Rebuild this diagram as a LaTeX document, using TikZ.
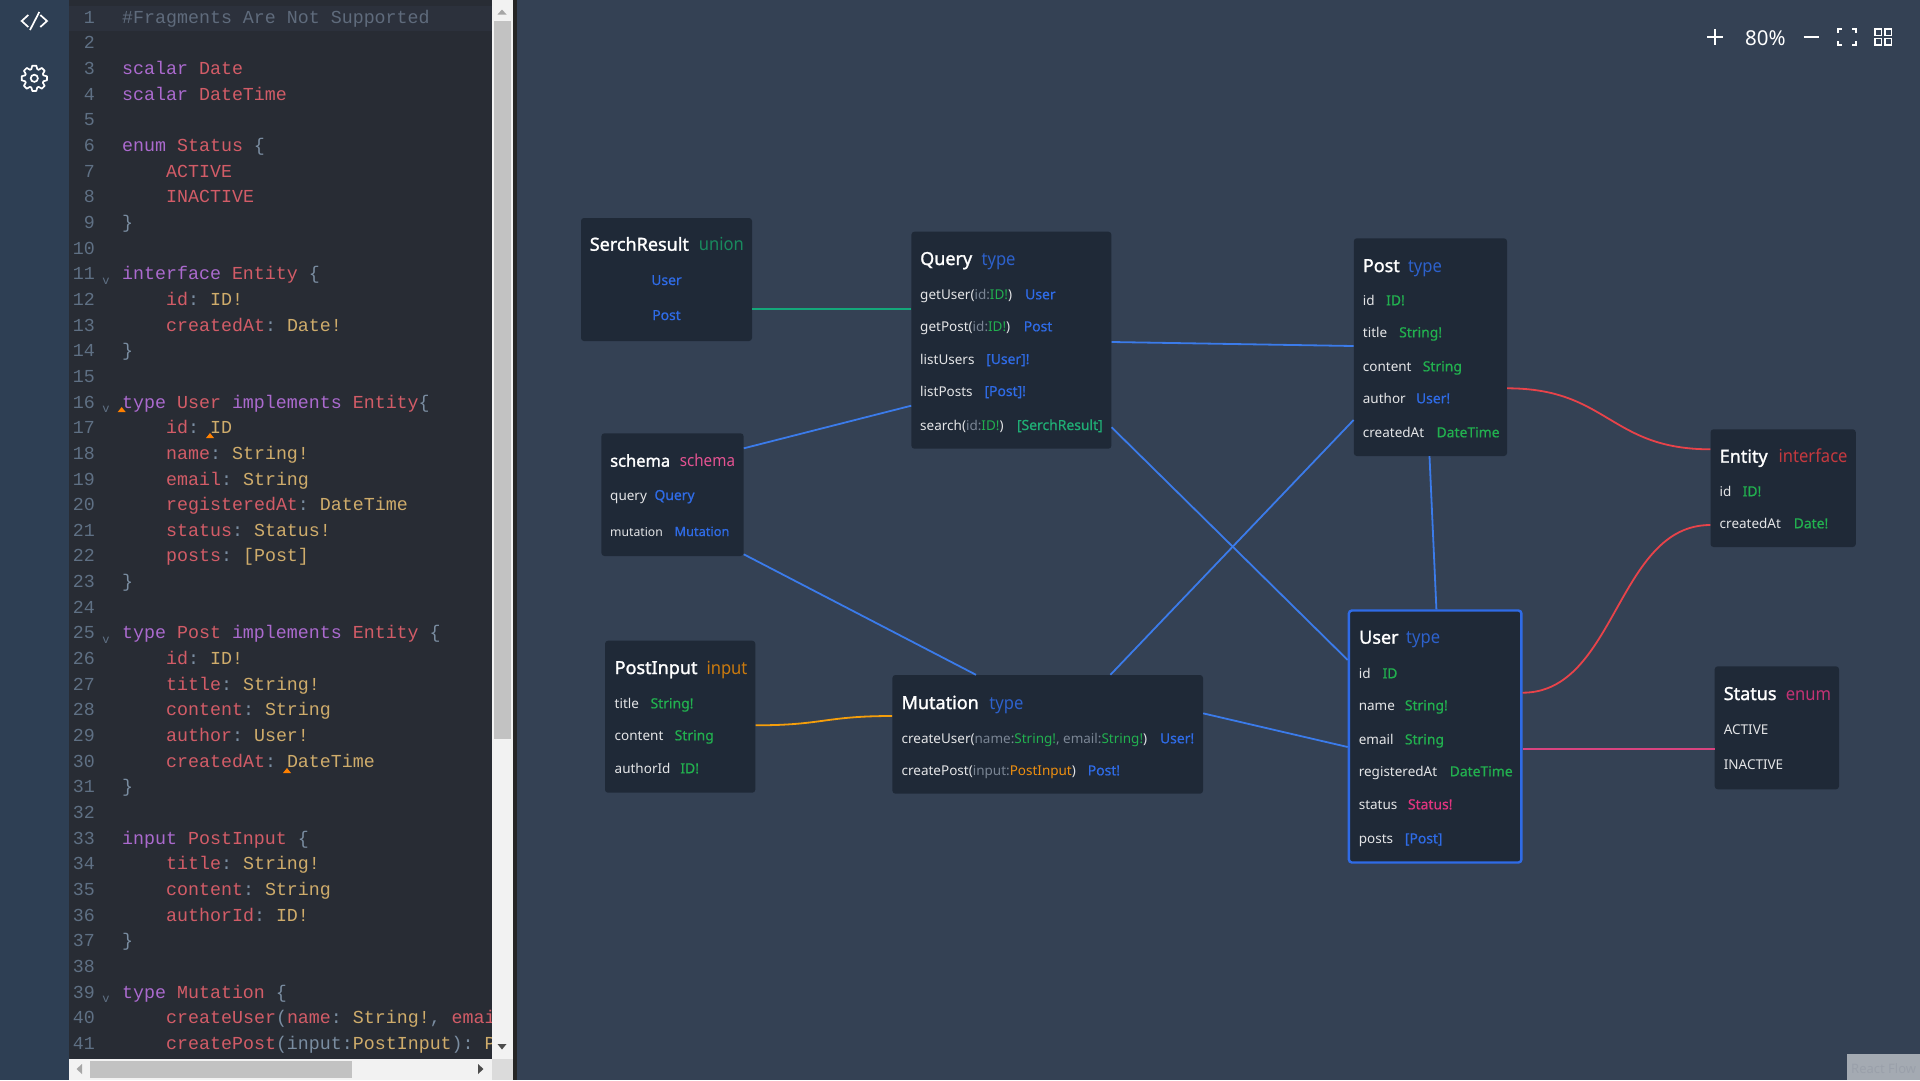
\documentclass[tikz,border=0pt]{standalone}
\usepackage{fontspec}
\usepackage{tikz}
\setmainfont{Noto Sans}
\newfontfamily\codefont{Liberation Mono}
\newfontfamily\kindfont[FakeStretch=0.92]{Noto Sans}
\newfontfamily\headfont[FakeBold=1.4]{Noto Sans}
\newfontfamily\typefont[FakeBold=0.7]{Noto Sans}

\definecolor{flowbg}{HTML}{344154}
\definecolor{sidebg}{HTML}{2E3F54}
\definecolor{editbg}{HTML}{282C34}
\definecolor{editline}{HTML}{2C313C}
\definecolor{gutter}{HTML}{5F7084}
\definecolor{boxbg}{HTML}{1F2937}
\definecolor{ckw}{HTML}{AB6ACE}
\definecolor{cdef}{HTML}{D25C67}
\definecolor{cty}{HTML}{CFAC6B}
\definecolor{cpn}{HTML}{7A8DA1}
\definecolor{ccm}{HTML}{5F6B7C}
\definecolor{tblue}{HTML}{2F6BE6}
\definecolor{tgreen}{HTML}{22B04F}
\definecolor{tteal}{HTML}{1FAD75}
\definecolor{tpink}{HTML}{E0357F}
\definecolor{torange}{HTML}{EE8F10}
\definecolor{targ}{HTML}{7A8594}
\definecolor{lblue}{HTML}{3B7BEA}
\definecolor{lred}{HTML}{E8434A}
\definecolor{lpink}{HTML}{D8437F}
\definecolor{lorange}{HTML}{F59E0B}
\definecolor{lteal}{HTML}{14A87A}

\newcommand{\kw}[1]{\textcolor{ckw}{#1}}
\newcommand{\dfn}[1]{\textcolor{cdef}{#1}}
\newcommand{\pn}[1]{\textcolor{cpn}{#1}}
\newcommand{\fld}[2]{\textcolor{cdef}{#1}\textcolor{cpn}{:} \textcolor{cty}{#2}}
\newcommand{\argn}[1]{\textcolor{targ}{#1}}
\newcommand{\tg}[1]{\textcolor{tgreen}{#1}}

\begin{document}
\begin{tikzpicture}[
  x=1pt, y=-1pt,
  typebox/.style={fill=boxbg, rounded corners=3pt, inner sep=0pt},
  headname/.style={anchor=base west, inner sep=0pt, text=white, font=\fontsize{18}{20}\selectfont\headfont},
  headkind/.style={anchor=base west, inner sep=0pt, font=\fontsize{18}{20}\selectfont\kindfont},
  fieldname/.style={anchor=base west, inner sep=0pt, text=white!88!boxbg, font=\fontsize{13.5}{16}\selectfont},
  fieldtype/.style={anchor=base west, inner sep=0pt, font=\fontsize{13.9}{16}\selectfont\typefont},
  codeline/.style={anchor=base west, inner sep=0pt, font=\fontsize{18.3}{20}\selectfont\codefont\frenchspacing},
  linenum/.style={anchor=base east, inner sep=0pt, text=gutter, font=\fontsize{18.3}{20}\selectfont\codefont},
  foldmark/.style={anchor=base, inner sep=0pt, text=gutter, font=\fontsize{12}{14}\selectfont\codefont},
  link/.style={line width=1.8pt},
  icon/.style={white, line width=1.7pt},
]
\useasboundingbox (0,0) rectangle (1920,1080);

% ---- Fundo e editor --------------------------------------------------------
\fill[flowbg] (0,0) rectangle (1920,1080);
\fill[sidebg] (0,0) rectangle (69,1080);
\fill[editbg] (69,0) rectangle (492,1059);
\fill[editline] (69,6) rectangle (492,31);
\fill[black!85] (513,0) rectangle (517,1080);

% ---- Icones ----------------------------------------------------------------
\draw[icon] (28.3,15) -- (21.7,21) -- (28.3,27);
\draw[icon] (40.3,15) -- (47,21) -- (40.3,27);
\draw[icon] (39.3,12) -- (30,30);
\begin{scope}[shift={(34.3,78.3)}]
  \draw[icon, line join=round] (9:12.8)
    \foreach \ang in {45,90,...,360} {
      -- (\ang-36:12.8) -- (\ang-27:9.6) -- (\ang-18:9.6) -- (\ang-9:12.8) }
    -- cycle;
  \draw[icon] (0,0) circle (3.6);
\end{scope}

% ---- Codigo ----------------------------------------------------------------
\foreach \lineno [evaluate=\lineno as \liney using 23.3+25.65*(\lineno-1)] in {1,...,41}
  \node[linenum] (num\lineno) at (95,\liney) {\lineno};
\foreach \lineno [evaluate=\lineno as \liney using 28+25.65*(\lineno-1)] in {11,16,25,39}
  \node[foldmark] (fold\lineno) at (106,\liney) {v};

\begin{scope}
\clip (113,0) rectangle (492,1059);
\foreach \lineno/\linex/\linetext [evaluate=\lineno as \liney using 23.3+25.65*(\lineno-1)] in {
  1/122/{\textcolor{ccm}{\#Fragments Are Not Supported}},
  3/122/{\kw{scalar} \dfn{Date}},
  4/122/{\kw{scalar} \dfn{DateTime}},
  6/122/{\kw{enum} \dfn{Status} \pn{\{}},
  7/166/{\dfn{ACTIVE}},
  8/166/{\dfn{INACTIVE}},
  9/122/{\pn{\}}},
  11/122/{\kw{interface} \dfn{Entity} \pn{\{}},
  12/166/{\fld{id}{ID!}},
  13/166/{\fld{createdAt}{Date!}},
  14/122/{\pn{\}}},
  16/122/{\kw{type} \dfn{User} \kw{implements} \dfn{Entity}\pn{\{}},
  17/166/{\fld{id}{ID}},
  18/166/{\fld{name}{String!}},
  19/166/{\fld{email}{String}},
  20/166/{\fld{registeredAt}{DateTime}},
  21/166/{\fld{status}{Status!}},
  22/166/{\fld{posts}{[Post]}},
  23/122/{\pn{\}}},
  25/122/{\kw{type} \dfn{Post} \kw{implements} \dfn{Entity} \pn{\{}},
  26/166/{\fld{id}{ID!}},
  27/166/{\fld{title}{String!}},
  28/166/{\fld{content}{String}},
  29/166/{\fld{author}{User!}},
  30/166/{\fld{createdAt}{DateTime}},
  31/122/{\pn{\}}},
  33/122/{\kw{input} \dfn{PostInput} \pn{\{}},
  34/166/{\fld{title}{String!}},
  35/166/{\fld{content}{String}},
  36/166/{\fld{authorId}{ID!}},
  37/122/{\pn{\}}},
  39/122/{\kw{type} \dfn{Mutation} \pn{\{}},
  40/166/{\dfn{createUser}\pn{(}\fld{name}{String!}\pn{,} \fld{email}{String!}\pn{)}},
  41/166/{\dfn{createPost}\pn{(input:}\textcolor{cty}{PostInput}\pn{):} \textcolor{cty}{Post!}}}
  \node[codeline] (code\lineno) at (\linex,\liney) {\linetext};
\end{scope}

% avisos
\fill[orange] (117.7,412) -- (125.7,412) -- (121.7,407) -- cycle;
\fill[orange] (206,438) -- (214,438) -- (210,433) -- cycle;
\fill[orange] (283,773) -- (291,773) -- (287,768) -- cycle;

% ---- Barras de rolagem -----------------------------------------------------
\fill[black!5] (492,0) rectangle (513,1059);
\fill[black!5] (69,1059) rectangle (492,1080);
\fill[black!14] (492,1059) rectangle (513,1080);
\fill[black!24] (494,21) rectangle (511,739);
\fill[black!24] (90,1061) rectangle (352,1078);
\fill[black!35] (497.5,14.5) -- (506.5,14.5) -- (502,9.5) -- cycle;
\fill[black!70] (497.5,1044) -- (506.5,1044) -- (502,1049.5) -- cycle;
\fill[black!35] (82,1064) -- (82,1074) -- (76.5,1069) -- cycle;
\fill[black!70] (478,1064) -- (478,1074) -- (483.5,1069) -- cycle;

% ---- Controles -------------------------------------------------------------
\draw[icon] (1707,36.7) -- (1723,36.7) (1715,29) -- (1715,44.7);
\node[anchor=base west, inner sep=0pt, text=white, font=\fontsize{20.5}{24}\selectfont] (zoomval) at (1745,45) {80\%};
\draw[icon] (1803.7,37) -- (1818.7,37);
\draw[icon] (1838,33) -- (1838,29) -- (1842,29) (1852,29) -- (1856,29) -- (1856,33)
            (1856,41) -- (1856,45) -- (1852,45) (1842,45) -- (1838,45) -- (1838,41);
\draw[white, line width=1.5pt] (1875,29) rectangle (1881.5,35.5) (1885,29) rectangle (1891.5,35.5)
            (1875,38.5) rectangle (1881.5,45) (1885,38.5) rectangle (1891.5,45);
\fill[white!55!flowbg] (1847,1054) rectangle (1920,1080);
\node[anchor=base west, inner sep=0pt, text=white!50!flowbg, font=\fontsize{13}{15}\selectfont] (brand) at (1851,1073) {React Flow};

% ---- Caixas ----------------------------------------------------------------
\node[typebox, minimum width=171pt, minimum height=123pt] (serch) at (666.5,279.5) {};
\node[typebox, minimum width=200pt, minimum height=217pt] (query) at (1011.4,340.2) {};
\node[typebox, minimum width=142.2pt, minimum height=122.7pt] (schema) at (672.5,494.65) {};
\node[typebox, minimum width=150.3pt, minimum height=152pt] (postinput) at (680.15,716.7) {};
\node[typebox, minimum width=310.6pt, minimum height=118.7pt] (mutation) at (1047.7,734.35) {};
\node[typebox, minimum width=153.2pt, minimum height=217.7pt] (post) at (1430.4,347.15) {};
\node[typebox, minimum width=145.3pt, minimum height=117.7pt] (entity) at (1783.15,488.15) {};
\node[typebox, draw=tblue, line width=2.4pt, minimum width=172.5pt, minimum height=252pt] (user) at (1435.15,736.5) {};
\node[typebox, minimum width=124.3pt, minimum height=123pt] (status) at (1776.85,727.8) {};

% ---- SerchResult -----------------------------------------------------------
\node[headname] (serchN) at (589.6,250.7) {SerchResult};
\node[headkind, text=tteal!80!black] (serchK) at (698.6,250.7) {union};
\node[fieldtype, anchor=base, text=tblue] (serchA) at (666.5,285) {User};
\node[fieldtype, anchor=base, text=tblue] (serchB) at (666.5,320) {Post};

% ---- Query -----------------------------------------------------------------
\node[headname] (queryN) at (920,265) {Query};
\node[headkind, text=tblue!85!boxbg] (queryK) at (981.4,265) {type};
\node[fieldname] (queryA) at (920,299.3) {getUser(\argn{id:}\tg{ID!})};
\node[fieldtype, text=tblue] (queryAt) at (1025,299.3) {User};
\node[fieldname] (queryB) at (920,331.3) {getPost(\argn{id:}\tg{ID!})};
\node[fieldtype, text=tblue] (queryBt) at (1023.6,331.3) {Post};
\node[fieldname] (queryC) at (920,364) {listUsers};
\node[fieldtype, text=tblue] (queryCt) at (986,364) {[User]!};
\node[fieldname] (queryD) at (920,396) {listPosts};
\node[fieldtype, text=tblue] (queryDt) at (984.3,396) {[Post]!};
\node[fieldname] (queryE) at (920,430) {search(\argn{id:}\tg{ID!})};
\node[fieldtype, text=tteal] (queryEt) at (1016.8,430) {[SerchResult]};

% ---- schema ----------------------------------------------------------------
\node[headname, font=\fontsize{16.5}{20}\selectfont\headfont] (schemaN) at (610,466.7) {schema};
\node[headkind, text=tpink!85!white, font=\fontsize{16.5}{20}\selectfont\kindfont] (schemaK) at (679.6,466.7) {schema};
\node[fieldname] (schemaA) at (610,500) {query};
\node[fieldtype, text=tblue] (schemaAt) at (654.3,500) {Query};
\node[fieldname, font=\fontsize{12.2}{16}\selectfont] (schemaB) at (610,536) {mutation};
\node[fieldtype, text=tblue, font=\fontsize{12.8}{16}\selectfont\typefont] (schemaBt) at (674.3,536) {Mutation};

% ---- PostInput -------------------------------------------------------------
\node[headname] (inputN) at (614.5,674) {PostInput};
\node[headkind, text=torange!85!black] (inputK) at (706.3,674) {input};
\node[fieldname] (inputA) at (614.5,708.3) {title};
\node[fieldtype, text=tgreen] (inputAt) at (650.4,708.3) {String!};
\node[fieldname] (inputB) at (614.5,740.3) {content};
\node[fieldtype, text=tgreen] (inputBt) at (674.5,740.3) {String};
\node[fieldname] (inputC) at (614.5,773.3) {authorId};
\node[fieldtype, text=tgreen] (inputCt) at (680.2,773.3) {ID!};

% ---- Mutation --------------------------------------------------------------
\node[headname] (mutN) at (901.4,709) {Mutation};
\node[headkind, text=tblue!85!boxbg] (mutK) at (989.2,709) {type};
\node[fieldname] (mutA) at (901.4,743.3) {createUser(\argn{name:}\tg{String!}\argn{, email:}\tg{String!})};
\node[fieldtype, text=tblue] (mutAt) at (1159.8,743.3) {User!};
\node[fieldname] (mutB) at (901.4,775.3) {createPost(\argn{input:}\textcolor{torange}{PostInput})};
\node[fieldtype, text=tblue] (mutBt) at (1087.6,775.3) {Post!};

% ---- Post ------------------------------------------------------------------
\node[headname] (postN) at (1362.7,272) {Post};
\node[headkind, text=tblue!85!boxbg] (postK) at (1407.8,272) {type};
\node[fieldname] (postA) at (1362.7,305.3) {id};
\node[fieldtype, text=tgreen] (postAt) at (1386,305.3) {ID!};
\node[fieldname] (postB) at (1362.7,337.3) {title};
\node[fieldtype, text=tgreen] (postBt) at (1399,337.3) {String!};
\node[fieldname] (postC) at (1362.7,371.3) {content};
\node[fieldtype, text=tgreen] (postCt) at (1422.6,371.3) {String};
\node[fieldname] (postD) at (1362.7,403.3) {author};
\node[fieldtype, text=tblue] (postDt) at (1415.8,403.3) {User!};
\node[fieldname] (postE) at (1362.7,437.3) {createdAt};
\node[fieldtype, text=tgreen] (postEt) at (1436.4,437.3) {DateTime};

% ---- Entity ----------------------------------------------------------------
\node[headname] (entityN) at (1719.5,462.7) {Entity};
\node[headkind, text=lred!85!black] (entityK) at (1778.4,462.7) {interface};
\node[fieldname] (entityA) at (1719.5,496.3) {id};
\node[fieldtype, text=tgreen] (entityAt) at (1742.5,496.3) {ID!};
\node[fieldname] (entityB) at (1719.5,528.3) {createdAt};
\node[fieldtype, text=tgreen] (entityBt) at (1793.5,528.3) {Date!};

% ---- User ------------------------------------------------------------------
\node[headname] (userN) at (1359,643.7) {User};
\node[headkind, text=tblue!85!boxbg] (userK) at (1406,643.7) {type};
\node[fieldname] (userA) at (1358.6,678.3) {id};
\node[fieldtype, text=tgreen] (userAt) at (1382.4,678.3) {ID};
\node[fieldname] (userB) at (1358.6,710.3) {name};
\node[fieldtype, text=tgreen] (userBt) at (1404.7,710.3) {String!};
\node[fieldname] (userC) at (1358.6,744.3) {email};
\node[fieldtype, text=tgreen] (userCt) at (1404.7,744.3) {String};
\node[fieldname] (userD) at (1358.6,776.3) {registeredAt};
\node[fieldtype, text=tgreen] (userDt) at (1449.5,776.3) {DateTime};
\node[fieldname] (userE) at (1358.6,809.3) {status};
\node[fieldtype, text=tpink] (userEt) at (1407.8,809.3) {Status!};
\node[fieldname] (userF) at (1358.6,843.3) {posts};
\node[fieldtype, text=tblue] (userFt) at (1404.7,843.3) {[Post]};

% ---- Status ----------------------------------------------------------------
\node[headname] (statusN) at (1723.6,700) {Status};
\node[headkind, text=tpink!85!boxbg] (statusK) at (1785.6,700) {enum};
\node[fieldname] (statusA) at (1723.6,734) {ACTIVE};
\node[fieldname] (statusB) at (1723.6,769) {INACTIVE};

% ---- Ligacoes --------------------------------------------------------------
\draw[link, lteal] ([yshift=-29.8pt]serch.east) -- ([yshift=30.9pt]query.west);
\draw[link, lblue] ([yshift=46.35pt]schema.east) -- ([yshift=-65.5pt]query.west);
\draw[link, lblue] ([yshift=-59.65pt]schema.east) -- ([xshift=-71.7pt]mutation.north);
\draw[link, lblue] ([yshift=-1.8pt]query.east) -- ([yshift=1.15pt]post.west);
\draw[link, lblue] ([yshift=-87.1pt]query.east) -- ([yshift=76.5pt]user.west);
\draw[link, lblue] ([xshift=62.7pt]mutation.north) -- ([yshift=-72.85pt]post.west);
\draw[link, lblue] ([xshift=-0.9pt]post.south) -- ([xshift=1.25pt]user.north);
\draw[link, lblue] ([yshift=21pt]mutation.east) -- ([yshift=-10.5pt]user.west);
\draw[link, lorange] ([yshift=-8.6pt]postinput.east) to[out=0, in=180, looseness=1.27] ([yshift=18.35pt]mutation.west);
\draw[link, lred] ([yshift=-41.15pt]post.east) to[out=0, in=180, looseness=1.22] ([yshift=38.85pt]entity.west);
\draw[link, lred] ([yshift=43.8pt]user.east) to[out=0, in=180, looseness=0.95] ([yshift=-36.85pt]entity.west);
\draw[link, lpink] ([yshift=-12.5pt]user.east) -- ([yshift=-21.2pt]status.west);

\end{tikzpicture}
\end{document}
